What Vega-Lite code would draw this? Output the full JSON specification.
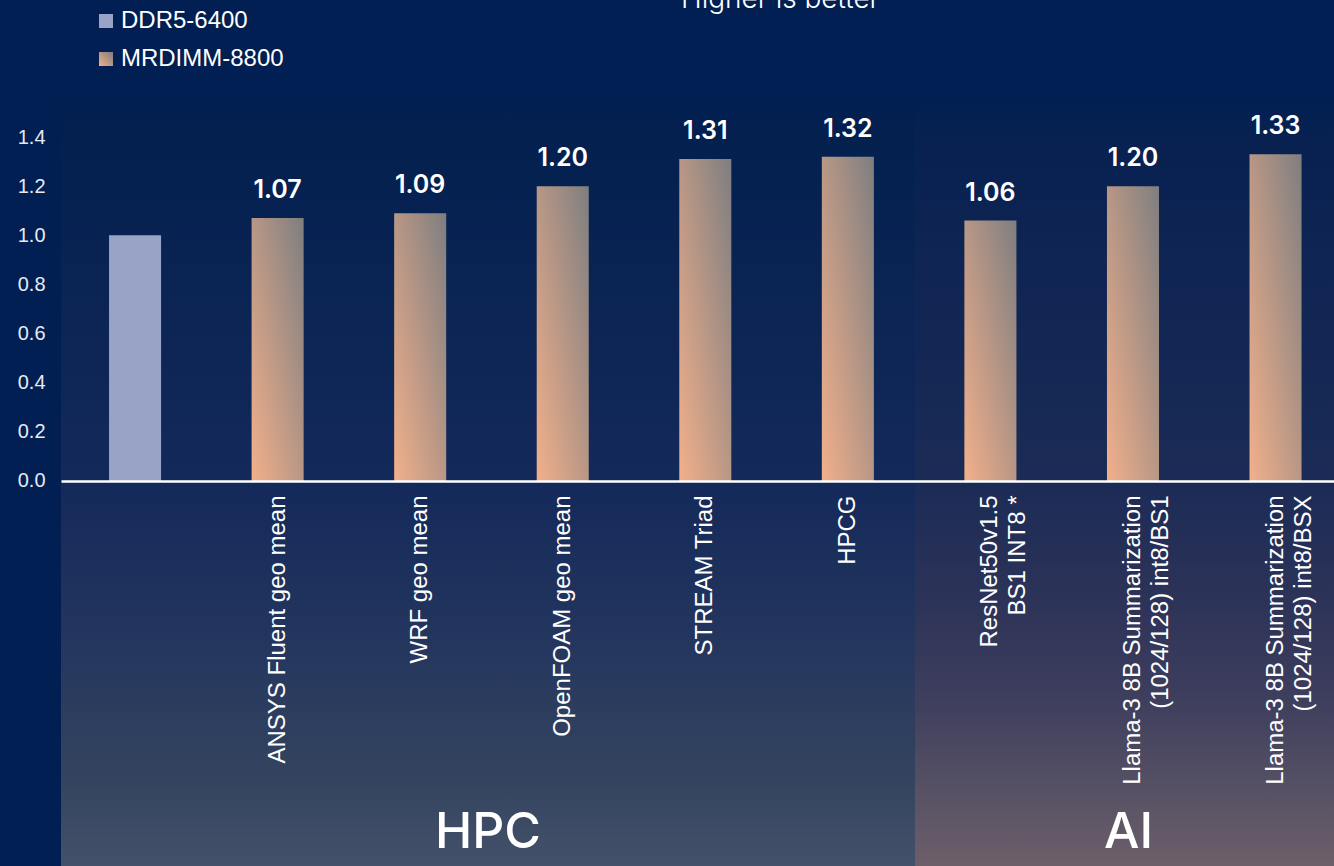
{
  "$schema": "https://vega.github.io/schema/vega-lite/v6.json",
  "width": 1288.6,
  "height": 344,
  "autosize": {"type": "none"},
  "padding": {"left": 61, "top": 137, "right": 0, "bottom": 390},
  "background": "#011f52",
  "config": {"view": {"stroke": null}, "font": "Liberation Sans"},
  "title": {
    "text": "Higher is better",
    "color": "#ffffff",
    "font": "Inter",
    "fontSize": 28,
    "fontWeight": 300,
    "anchor": "middle",
    "frame": "group",
    "dx": 75,
    "offset": -27,
    "baseline": "alphabetic"
  },
  "datasets": {
    "regions": [
      {"region": "HPC", "start": 0, "end": 6},
      {"region": "AI", "start": 6, "end": 9}
    ],
    "results": [
      {"bench": "Baseline", "config": "DDR5-6400", "value": 1.00},
      {"bench": "ANSYS Fluent  geo mean", "config": "MRDIMM-8800", "value": 1.07},
      {"bench": "WRF geo mean", "config": "MRDIMM-8800", "value": 1.09},
      {"bench": "OpenFOAM geo mean", "config": "MRDIMM-8800", "value": 1.20},
      {"bench": "STREAM Triad", "config": "MRDIMM-8800", "value": 1.31},
      {"bench": "HPCG", "config": "MRDIMM-8800", "value": 1.32},
      {"bench": "ResNet50v1.5\nBS1 INT8 *", "config": "MRDIMM-8800", "value": 1.06},
      {"bench": "Llama-3 8B Summarization\n(1024/128) int8/BS1", "config": "MRDIMM-8800", "value": 1.20},
      {"bench": "Llama-3 8B Summarization\n(1024/128) int8/BSX", "config": "MRDIMM-8800", "value": 1.33}
    ]
  },
  "layer": [
    {
      "data": {"name": "regions"},
      "layer": [
        {
          "transform": [{"filter": "datum.region == 'HPC'"}],
          "mark": {
            "type": "rect",
            "fill": {
              "gradient": "linear", "x1": 0, "y1": 0, "x2": 0, "y2": 1,
              "stops": [
                {"offset": 0, "color": "#011f52"},
                {"offset": 0.05, "color": "#03204f"},
                {"offset": 0.49, "color": "#13295a"},
                {"offset": 0.7, "color": "#24365e"},
                {"offset": 0.88, "color": "#34445f"},
                {"offset": 1, "color": "#46526b"}
              ]
            }
          },
          "encoding": {
            "x": {"field": "start", "type": "quantitative", "scale": {"domain": [0, 9], "range": [0, 1281], "nice": false, "zero": false}, "axis": null},
            "x2": {"field": "end"},
            "y": {"datum": 1.55, "type": "quantitative", "scale": {"domain": [0, 1.4], "nice": false}, "axis": null},
            "y2": {"datum": -1.6}
          }
        },
        {
          "transform": [{"filter": "datum.region == 'AI'"}],
          "mark": {
            "type": "rect",
            "fill": {
              "gradient": "linear", "x1": 0, "y1": 0, "x2": 0, "y2": 1,
              "stops": [
                {"offset": 0, "color": "#021f52"},
                {"offset": 0.05, "color": "#082151"},
                {"offset": 0.49, "color": "#1b2b56"},
                {"offset": 0.65, "color": "#2d3358"},
                {"offset": 0.78, "color": "#3f3f5e"},
                {"offset": 0.91, "color": "#5a5465"},
                {"offset": 1, "color": "#6f606a"}
              ]
            }
          },
          "encoding": {
            "x": {"field": "start", "type": "quantitative", "scale": {"domain": [0, 9], "range": [0, 1281], "nice": false, "zero": false}, "axis": null},
            "x2": {"field": "end"},
            "y": {"datum": 1.55, "type": "quantitative", "scale": {"domain": [0, 1.4], "nice": false}, "axis": null},
            "y2": {"datum": -1.6}
          }
        },
        {
          "transform": [{"fold": ["start", "end"], "as": ["edge", "pos"]}],
          "mark": {"type": "text", "font": "Inter", "fontSize": 50, "fontWeight": 500, "color": "#ffffff", "align": "center", "baseline": "alphabetic"},
          "encoding": {
            "x": {"aggregate": "mean", "field": "pos", "type": "quantitative", "scale": {"domain": [0, 9], "range": [0, 1281], "nice": false, "zero": false}, "axis": null},
            "y": {"datum": -1.494, "type": "quantitative", "scale": {"domain": [0, 1.4], "nice": false}, "axis": null},
            "detail": {"field": "region", "type": "nominal"},
            "text": {"field": "region", "type": "nominal"}
          }
        }
      ],
      "resolve": {"scale": {"x": "shared", "y": "shared"}}
    },
    {
      "data": {"name": "results"},
      "encoding": {
        "x": {
          "field": "bench",
          "type": "nominal",
          "sort": null,
          "scale": {
            "domain": [
              "Baseline",
              "ANSYS Fluent  geo mean",
              "WRF geo mean",
              "OpenFOAM geo mean",
              "STREAM Triad",
              "HPCG",
              "ResNet50v1.5\nBS1 INT8 *",
              "Llama-3 8B Summarization\n(1024/128) int8/BS1",
              "Llama-3 8B Summarization\n(1024/128) int8/BSX"
            ],
            "paddingInner": 0.635,
            "paddingOuter": 0.337
          },
          "axis": {
            "title": null,
            "labelExpr": "datum.value == 'Baseline' ? '' : split(datum.value, '\\n')",
            "labelAngle": -90,
            "labelAlign": "right",
            "labelBaseline": "middle",
            "labelFont": "Liberation Sans",
            "labelFontSize": 24,
            "labelColor": "#ffffff",
            "labelLineHeight": 28,
            "labelPadding": 14,
            "labelLimit": 500,
            "ticks": false,
            "domain": true,
            "domainColor": "#ffffff",
            "domainWidth": 2.5,
            "grid": false,
            "zindex": 1
          }
        },
        "y": {
          "field": "value",
          "type": "quantitative",
          "scale": {"domain": [0, 1.4], "nice": false},
          "axis": {
            "title": null,
            "values": [0, 0.2, 0.4, 0.6, 0.8, 1.0, 1.2, 1.4],
            "format": ".1f",
            "labelFont": "Liberation Sans",
            "labelFontSize": 20,
            "labelColor": "#e8eaf2",
            "labelPadding": 16,
            "ticks": false,
            "domain": false,
            "grid": true,
            "gridColor": "#2b3f6f",
            "gridWidth": 1.5
          }
        }
      },
      "layer": [
        {
          "mark": {"type": "bar"},
          "encoding": {
            "color": {
              "field": "config",
              "type": "nominal",
              "scale": {
                "domain": ["DDR5-6400", "MRDIMM-8800"],
                "range": [
                  "#99a3c5",
                  {"expr": "{gradient: 'linear', x1: 0, y1: 1, x2: 1, y2: 0, stops: [{offset: 0, color: '#f2b08b'}, {offset: 1, color: '#7e7e80'}]}"}
                ]
              },
              "legend": {
                "orient": "none",
                "legendX": 33,
                "legendY": -128,
                "title": null,
                "direction": "vertical",
                "symbolType": "square",
                "symbolSize": 196,
                "symbolStrokeWidth": 0,
                "labelFont": "Liberation Sans",
                "labelFontSize": 24,
                "labelColor": "#ffffff",
                "labelOffset": 3,
                "labelLimit": 400,
                "rowPadding": 14,
                "padding": 0
              }
            }
          }
        },
        {
          "mark": {"type": "text", "font": "Inter", "fontSize": 25, "fontWeight": 600, "color": "#ffffff", "baseline": "alphabetic", "dy": -20},
          "encoding": {
            "text": {
              "condition": {"test": "datum.config == 'MRDIMM-8800'", "field": "value", "type": "quantitative", "format": ".2f"},
              "value": ""
            }
          }
        }
      ]
    }
  ],
  "resolve": {"scale": {"x": "independent", "y": "independent", "color": "independent"}}
}
